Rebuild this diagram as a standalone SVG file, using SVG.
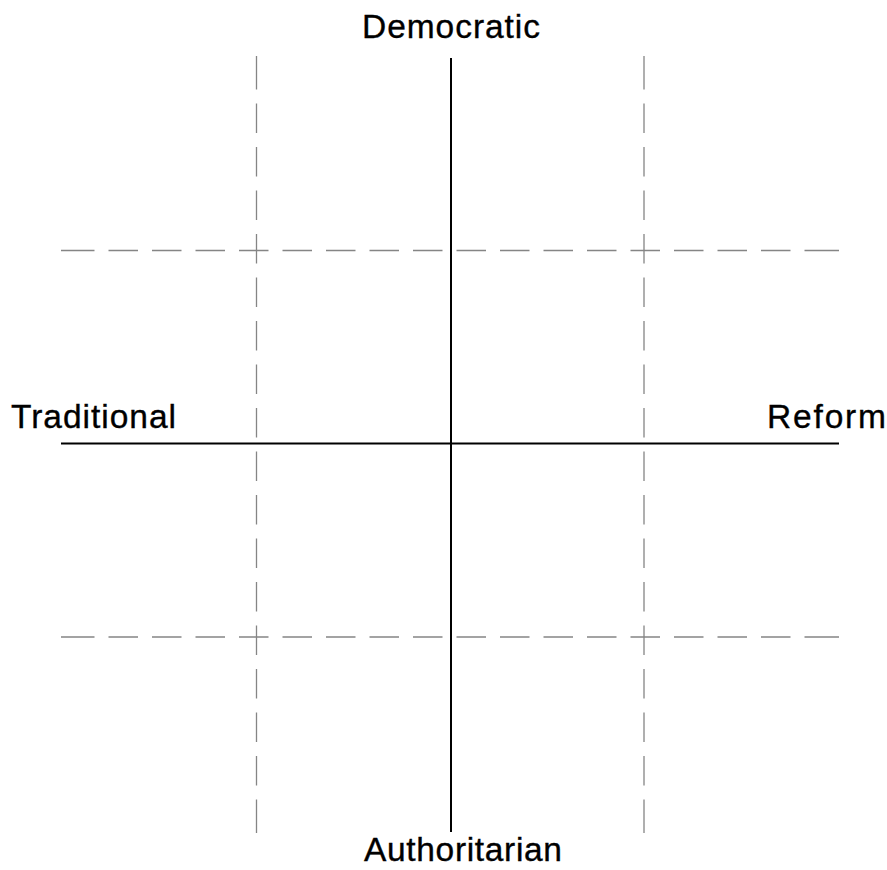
<svg xmlns="http://www.w3.org/2000/svg" width="887" height="870" viewBox="0 0 887 870">
<style>
.grid{stroke:#858585;stroke-width:1.3;fill:none;stroke-dasharray:33.5 14 29.5 14 29.5 14 29.5 14 29.5 14 29.5 14 29.5 14 29.5 14 29.5 14 29.5 14 29.5 14 29.5 14 29.5 14 29.5 14 29.5 14 29.5 14 29.5 14 40}
.axis{stroke:#000;stroke-width:2;fill:none}
.lbl{font-family:"Liberation Sans",Arial,sans-serif;font-size:33.5px;fill:#000;stroke:#000;stroke-width:0.35}
</style>
<rect width="887" height="870" fill="#fff"/>
<g id="grid">
<line class="grid" x1="61" y1="250.5" x2="839" y2="250.5"/>
<line class="grid" x1="61" y1="637" x2="839" y2="637"/>
<line class="grid" x1="256.5" y1="56" x2="256.5" y2="833"/>
<line class="grid" x1="644" y1="56" x2="644" y2="833"/>
</g>
<g id="connectors">
<line class="axis" x1="451" y1="58" x2="451" y2="832"/>
<line class="axis" x1="61" y1="443.5" x2="839" y2="443.5"/>
</g>
<g id="democratic"><text class="lbl" x="362" y="38" textLength="178">Democratic</text></g>
<g id="traditional"><text class="lbl" x="11" y="428" textLength="165">Traditional</text></g>
<g id="reform"><text class="lbl" x="767" y="428" textLength="119">Reform</text></g>
<g id="authoritarian"><text class="lbl" x="364" y="861" textLength="198">Authoritarian</text></g>
</svg>
